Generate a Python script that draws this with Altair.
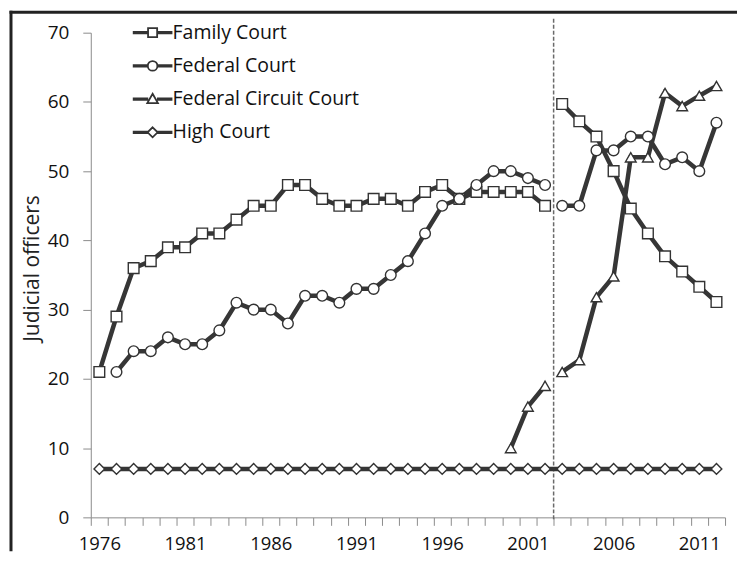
import altair as alt
import pandas as pd

years = list(range(1976, 2013))
series_names = ["Family Court", "Federal Court", "Federal Circuit Court", "High Court"]

family_court = [21, 29, 36, 37, 39, 39, 41, 41, 43, 45, 45, 48, 48, 46, 45, 45, 46, 46, 45, 47,
                48, 46, 47, 47, 47, 47, 45, 59.7, 57.2, 55, 50, 44.6, 41, 37.7, 35.5, 33.3, 31.1]
federal_court = [None, 21, 24, 24, 26, 25, 25, 27, 31, 30, 30, 28, 32, 32, 31, 33, 33, 35, 37, 41,
                 45, 46, 48, 50, 50, 49, 48, 45, 45, 53, 53, 55, 55, 51, 52, 50, 57]
federal_circuit_court = [None, None, None, None, None, None, None, None, None, None, None, None,
                         None, None, None, None, None, None, None, None, None, None, None, None,
                         10, 16, 19, 21, 22.7, 31.8, 34.8, 52, 52, 61.3, 59.4, 60.9, 62.3]
high_court = [7, 7, 7, 7, 7, 7, 7, 7, 7, 7, 7, 7, 7, 7, 7, 7, 7, 7, 7, 7,
              7, 7, 7, 7, 7, 7, 7, 7, 7, 7, 7, 7, 7, 7, 7, 7, 7]

break_year = 2002.5          # dashed reform line, between 2002 and 2003
broken_series = ["Family Court", "Federal Court", "Federal Circuit Court"]
y_ticks = [0, 10, 20, 30, 40, 50, 60, 70]
x_tick_bounds = [y - 0.5 for y in years] + [2012.5]

rows = []
for name, vals in zip(series_names, [family_court, federal_court, federal_circuit_court, high_court]):
    for yr, v in zip(years, vals):
        if v is None:
            continue
        if name in broken_series:
            seg = name + (" a" if yr < break_year else " b")
        else:
            seg = name
        rows.append({"year": yr, "value": v, "series": name, "segment": seg})
df = pd.DataFrame(rows)

W, H = 636, 486
FONT = "Open Sans"
DARK = "#363636"

xscale = alt.Scale(domain=[1975.5, 2012.5], nice=False, zero=False)
yscale = alt.Scale(domain=[0, 70], nice=False, zero=True)

x_enc = alt.X("year:Q", scale=xscale, axis=alt.Axis(
    values=x_tick_bounds, tickCount=100,
    labelExpr="((datum.value + 0.5 - 1976) % 5 == 0 && datum.value < 2012) ? toString(datum.value + 0.5) : ''",
    labelOffset=W / 74, tickSize=8, labelPadding=9, grid=False,
    domainColor="#8c8c8c", tickColor="#8c8c8c", labelFontSize=18.5, labelColor="#111",
    labelOverlap=False, labelFlush=False, title=None))
y_enc = alt.Y("value:Q", scale=yscale, axis=alt.Axis(
    values=y_ticks, tickSize=8, labelPadding=14, grid=False,
    domainColor="#8c8c8c", tickColor="#8c8c8c", labelFontSize=19, labelColor="#111",
    title="Judicial officers", titleFontSize=21, titleFontWeight="normal", titleColor="#222",
    titlePadding=5, titleY=H / 2 - 7))

base = alt.Chart(df)

lines = base.mark_line(color=DARK, strokeWidth=4.5).encode(
    x=x_enc, y=y_enc, detail="segment:N")

points = base.mark_point(filled=True, fill="white", stroke="#333", strokeWidth=1.4,
                         size=115, opacity=1).encode(
    x=x_enc, y=y_enc,
    shape=alt.Shape("series:N", scale=alt.Scale(
        domain=series_names, range=["square", "circle", "triangle-up", "diamond"]), legend=None))

leg_line = "M-1.5,-0.06H-0.42V0.06H-1.5ZM0.42,-0.06H1.5V0.06H0.42Z"
legend_paths = [
    leg_line + "M-0.36,-0.36H0.36V0.36H-0.36Z",
    leg_line + "M-0.38,0A0.38,0.38 0 1,0 0.38,0A0.38,0.38 0 1,0 -0.38,0Z",
    leg_line + "M0,-0.42L0.42,0.32H-0.42Z",
    leg_line + "M0,-0.4L0.4,0L0,0.4L-0.4,0Z",
]

legend_layer = base.transform_filter("false").mark_point(
    filled=False, color="#333", strokeWidth=1.8, opacity=1).encode(
    x=x_enc, y=y_enc,
    shape=alt.Shape("series:N", scale=alt.Scale(domain=series_names, range=legend_paths),
                    legend=alt.Legend(title=None, orient="none", legendX=48, legendY=-14,
                                      symbolSize=640, labelFontSize=19.5, labelColor="#111",
                                      labelLimit=400, rowPadding=9.3, labelOffset=6,
                                      symbolStrokeColor="#333", symbolStrokeWidth=1.8,
                                      symbolOpacity=1)))

reform = alt.Chart(pd.DataFrame({"year": [break_year]})).mark_rule(
    color="#6a6a6a", strokeWidth=1.5, strokeDash=[4, 2]).encode(
    x=alt.X("year:Q", scale=xscale), y=alt.value(-14), y2=alt.value(H + 3))

frame_left = alt.Chart(pd.DataFrame({"k": [0]})).mark_rule(color="#222", strokeWidth=3).encode(
    x=alt.value(-80), y=alt.value(-22), y2=alt.value(H + 34))
frame_top = alt.Chart(pd.DataFrame({"k": [0]})).mark_rule(color="#222", strokeWidth=3).encode(
    x=alt.value(-81.5), x2=alt.value(W + 12), y=alt.value(-20.5))

chart = alt.layer(frame_left, frame_top, reform, lines, points, legend_layer).resolve_scale(
    shape="independent"
).properties(
    width=W, height=H, padding={"left": 0, "top": 0, "right": 0, "bottom": 0}
).configure(font=FONT).configure_view(stroke=None)

chart.save("out.html", embed_options={"renderer": "svg", "actions": False})
